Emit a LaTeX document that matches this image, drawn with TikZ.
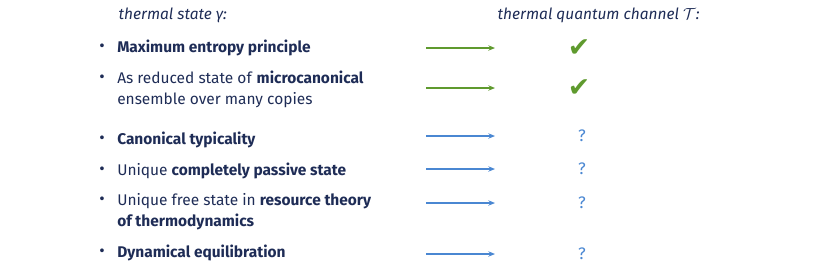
\documentclass[tikz,border=0pt]{standalone}
\usepackage{fontspec}
\setmainfont{Fira Sans}
\newfontfamily\symfont{DejaVu Sans}
\usetikzlibrary{arrows.meta}
\definecolor{tNavy}{HTML}{1E2C56}
\definecolor{tGreen}{HTML}{5F9A2E}
\definecolor{tBlue}{HTML}{4A87D2}
% one row: text y, arrow y, name, text, 1 = known / 0 = open
\newcommand{\trow}[5]{%
 \node[font=\fontsize{12.5}{15.75}\selectfont, text=tNavy] (#3b) at (102,#1+1) {\textbullet};
 \node[anchor=north west, inner sep=0pt, align=left, font=\fontsize{11.6}{15.75}\selectfont, text=tNavy] (#3) at (117,#1-7) {#4};
 \coordinate (#3s) at (426,#2);
 \ifnum#5=1
  \node[font=\symfont\bfseries\fontsize{20}{20}\selectfont, text=tGreen] (#3r) at (579,#2) {✔};
  \coordinate (#3e) at (495,#2);
  \draw[-{Stealth[length=5pt,width=4pt]}, tGreen, line width=1.1pt] (#3s) -- (#3e);
 \else
  \node[font=\fontsize{12.5}{14}\selectfont, text=tBlue] (#3r) at (582,#2) {?};
  \coordinate (#3e) at (495,#2);
  \draw[-{Stealth[length=5pt,width=4pt]}, tBlue, line width=1.1pt] (#3s) -- (#3e);
 \fi}

\begin{document}
\begin{tikzpicture}[x=0.75pt, y=-0.75pt]
\useasboundingbox (0,0) rectangle (834,269);
\node[anchor=west, font=\itshape\fontsize{11.6}{13}\selectfont, text=tNavy] (hstate) at (114,15) {thermal state γ:};
\node[anchor=west, font=\itshape\fontsize{11.6}{13}\selectfont, text=tNavy] (hchan) at (493,15) {thermal quantum channel $\mathcal{T}$:};
\trow{47}{48}{r1}{\textbf{Maximum entropy principle}}{1}
\trow{78}{88}{r2}{As reduced state of \textbf{microcanonical}\\ensemble over many copies}{1}
\trow{139}{136}{r3}{\textbf{Canonical typicality}}{0}
\trow{170}{169}{r4}{Unique \textbf{completely passive state}}{0}
\trow{200}{203}{r5}{Unique free state in \textbf{resource theory}\\\textbf{of thermodynamics}}{0}
\trow{252}{254}{r6}{\textbf{Dynamical equilibration}}{0}
\end{tikzpicture}
\end{document}
